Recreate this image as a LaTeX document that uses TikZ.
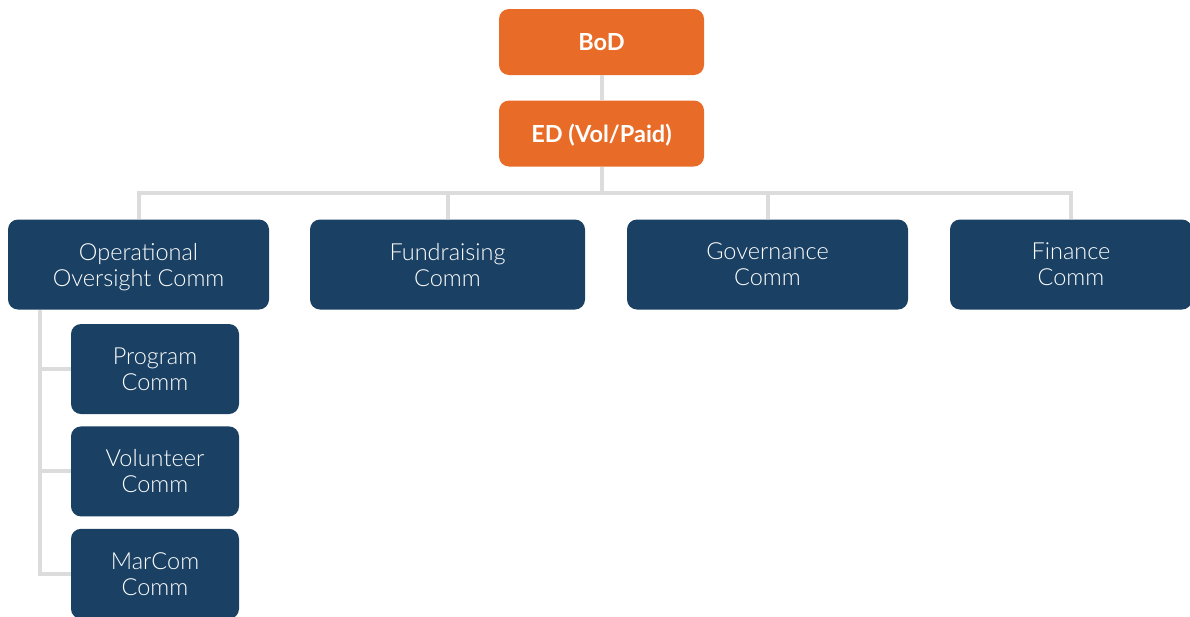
\documentclass[tikz,border=0pt]{standalone}
\usepackage{fontspec}
\setmainfont{Lato}
\newfontfamily\commfont{Lato Light}
\usetikzlibrary{positioning}
\definecolor{boardorange}{HTML}{E86C27}
\definecolor{commblue}{HTML}{1A4163}
\definecolor{wiregray}{HTML}{DCDCDC}
\tikzstyle{lead} = [rectangle, rounded corners=10pt, fill=boardorange, text=white, font=\bfseries\fontsize{23.5}{26}\selectfont, text depth=0pt, minimum width=205pt, minimum height=66pt, inner sep=0pt]
\tikzstyle{comm} = [rectangle, rounded corners=10pt, fill=commblue, text=white, align=center, font=\commfont\fontsize{23.5}{26}\selectfont, text depth=0pt, minimum height=90pt, inner sep=0pt]
\tikzstyle{wire} = [draw=wiregray, line width=4pt]
\newcommand{\busy}{193}
\newcommand{\spinex}{40}

\begin{document}
\begin{tikzpicture}[x=1pt, y=-1pt, node distance=12pt]

  \useasboundingbox (0,0) rectangle (1190,616);
  \coordinate (bus) at (0,\busy);
  \coordinate (spine) at (\spinex,0);

  % Board and director
  \node [lead] (bod) at (601.5,42) {BoD};
  \node [lead] (ed) at (601.5,133.5) {ED (Vol/Paid)};

  % Standing committees
  \node [comm, minimum width=261pt] (ops) at (138.5,264.5) {Operational\\Oversight Comm};
  \node [comm, minimum width=275pt] (fund) at (447.5,264.5) {Fundraising\\Comm};
  \node [comm, minimum width=281pt] (gov) at (767.5,264.5) {Governance\\Comm};
  \node [comm, minimum width=242pt] (fin) at (1071,264.5) {Finance\\Comm};

  % Sub-committees under operational oversight
  \node [comm, minimum width=168pt] (prog) at (155,369) {Program\\Comm};
  \node [comm, minimum width=168pt, below=of prog] (vol) {Volunteer\\Comm};
  \node [comm, minimum width=168pt, below=of vol] (marcom) {MarCom\\Comm};

  % Chain of command
  \draw [wire] (bod) -- (ed);
  \draw [wire] (ed.south) -- (ed.south |- bus);
  \draw [wire] (ed.south |- bus) -| (ops.north);
  \draw [wire] (ed.south |- bus) -| (fin.north);
  \draw [wire] (fund.north |- bus) -- (fund.north);
  \draw [wire] (gov.north |- bus) -- (gov.north);

  % Spine to the sub-committees
  \draw [wire] (ops.south -| spine) |- (marcom.west);
  \draw [wire] (prog.west -| spine) -- (prog.west);
  \draw [wire] (vol.west -| spine) -- (vol.west);

\end{tikzpicture}
\end{document}
